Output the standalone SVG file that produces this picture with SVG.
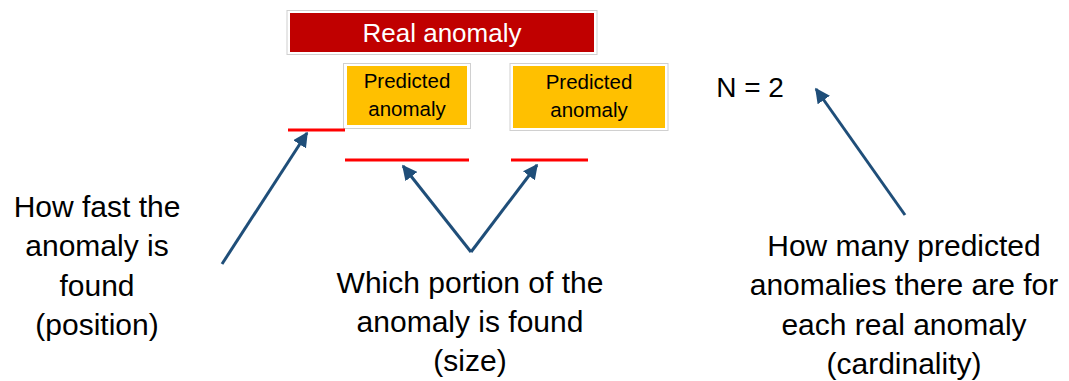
<svg xmlns="http://www.w3.org/2000/svg" width="1069" height="381" viewBox="0 0 1069 381">
<defs>
<marker id="ah" viewBox="0 0 10 10" refX="9" refY="5" markerWidth="5" markerHeight="5" markerUnits="strokeWidth" orient="auto">
<path d="M0,0 L10,5 L0,10 z" fill="#1F4E79"/>
</marker>
</defs>
<style>
.frame{fill:#fff;stroke:#d0d0d0;stroke-width:1}
.lbl{font-family:"Liberation Sans",Arial,sans-serif;font-size:30px;fill:#000;text-anchor:middle}
.pred{font-family:"Liberation Sans",Arial,sans-serif;font-size:20.5px;fill:#000;text-anchor:middle}
.seg{stroke:#FF0000;stroke-width:3}
.arr{stroke:#1F4E79;stroke-width:3;fill:none;marker-end:url(#ah)}
</style>
<rect width="1069" height="381" fill="#fff"/>
<g id="real">
<rect class="frame" x="287" y="10.5" width="310" height="44"/>
<rect x="290" y="13" width="304" height="39" fill="#C00000"/>
<text x="442" y="42" font-family="Liberation Sans,Arial,sans-serif" font-size="26" fill="#fff" text-anchor="middle">Real anomaly</text>
</g>
<g id="pred1">
<rect class="frame" x="343.5" y="63.5" width="127" height="65"/>
<rect x="347" y="66" width="120" height="59" fill="#FFC000"/>
<text class="pred" x="407" y="88">Predicted</text>
<text class="pred" x="407" y="116">anomaly</text>
</g>
<g id="pred2">
<rect class="frame" x="510" y="63.5" width="158" height="67"/>
<rect x="513" y="66" width="152" height="62" fill="#FFC000"/>
<text class="pred" x="589" y="89">Predicted</text>
<text class="pred" x="589" y="117">anomaly</text>
</g>
<g id="segments">
<line class="seg" x1="288" y1="130" x2="345" y2="130"/>
<line class="seg" x1="345" y1="160" x2="469" y2="160"/>
<line class="seg" x1="511" y1="160" x2="588" y2="160"/>
</g>
<g id="n2">
<text x="750" y="97" font-family="Liberation Sans,Arial,sans-serif" font-size="28" fill="#000" text-anchor="middle">N = 2</text>
</g>
<g id="connectors">
<line class="arr" x1="222" y1="264" x2="307" y2="133"/>
<line class="arr" x1="471" y1="252" x2="403" y2="166"/>
<line class="arr" x1="471" y1="252" x2="537" y2="165"/>
<line class="arr" x1="905" y1="215" x2="816" y2="89"/>
</g>
<g id="text-position">
<text class="lbl" x="97" y="217">How fast the</text>
<text class="lbl" x="97" y="256">anomaly is</text>
<text class="lbl" x="97" y="296">found</text>
<text class="lbl" x="97" y="335">(position)</text>
</g>
<g id="text-size">
<text class="lbl" x="470" y="293">Which portion of the</text>
<text class="lbl" x="470" y="332">anomaly is found</text>
<text class="lbl" x="470" y="371">(size)</text>
</g>
<g id="text-cardinality">
<text class="lbl" x="904" y="256">How many predicted</text>
<text class="lbl" x="904" y="295">anomalies there are for</text>
<text class="lbl" x="904" y="335">each real anomaly</text>
<text class="lbl" x="904" y="374">(cardinality)</text>
</g>
</svg>
